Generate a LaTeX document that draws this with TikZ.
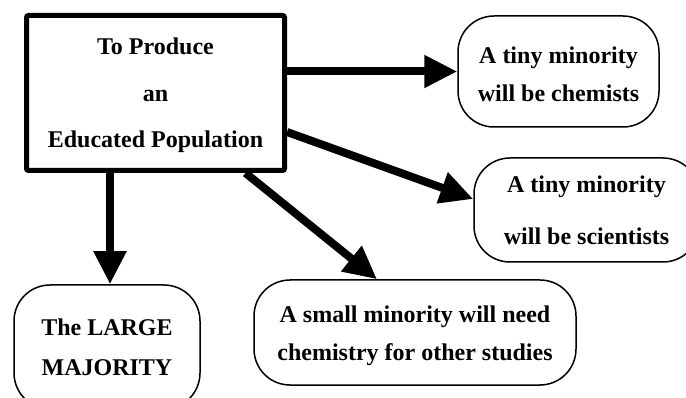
\documentclass[tikz,border=0pt]{standalone}
\usepackage{fontspec}
\setmainfont{Liberation Serif}
\usetikzlibrary{arrows.meta,calc}
\begin{document}
\begin{tikzpicture}[x=1pt,y=-1pt,
  mainbox/.style={draw,line width=5pt,rounded corners=2pt,fill=white,inner sep=0pt,
    minimum width=258pt,minimum height=155pt,align=center,text height=114.2pt,
    font=\fontsize{24}{46.5}\selectfont\bfseries},
  roundbox/.style={draw,line width=1.5pt,rounded corners=36pt,fill=white,inner sep=0pt,
    align=center},
  fatarrow/.style={line width=8pt,-{Triangle[length=33pt,width=31pt]}}]
\useasboundingbox (0,0) rectangle (686,398);
\clip (0,0) rectangle (686,398);
\node[mainbox] (main) at (155.5,93) {To Produce\\an\\Educated Population};
\node[roundbox,minimum width=201pt,minimum height=111pt,text height=60.7pt,
  font=\fontsize{24}{38.5}\selectfont\bfseries] (chem) at (558.5,71.5)
  {A tiny minority\\will be chemists};
\node[roundbox,minimum width=225pt,minimum height=104pt,
  font=\fontsize{24}{52}\selectfont\bfseries] (sci) at (586.5,210)
  {A tiny minority\\will be scientists};
\node[roundbox,minimum width=322pt,minimum height=105pt,text height=60.7pt,
  font=\fontsize{24}{37.5}\selectfont\bfseries] (small) at (415,332.5)
  {A small minority will need\\chemistry for other studies};
\node[roundbox,minimum width=186pt,minimum height=124pt,
  font=\fontsize{24}{40}\selectfont\bfseries] (large) at (107,347)
  {The LARGE\\MAJORITY};
\coordinate (ltip) at ($(large.north)+(3,0)$);
\coordinate (stip) at ($(sci.west)+(0,-11)$);
\coordinate (mtip) at ($(small.north)+(-38,0)$);
\draw[fatarrow] (ltip |- main.south) -- (ltip);
\draw[fatarrow] (main.east |- chem.west) -- (chem.west);
\draw[fatarrow] ($(main.east)+(0,39)$) -- (stip);
\draw[fatarrow] ($(main.south)+(90,0)$) -- (mtip);
\end{tikzpicture}
\end{document}
